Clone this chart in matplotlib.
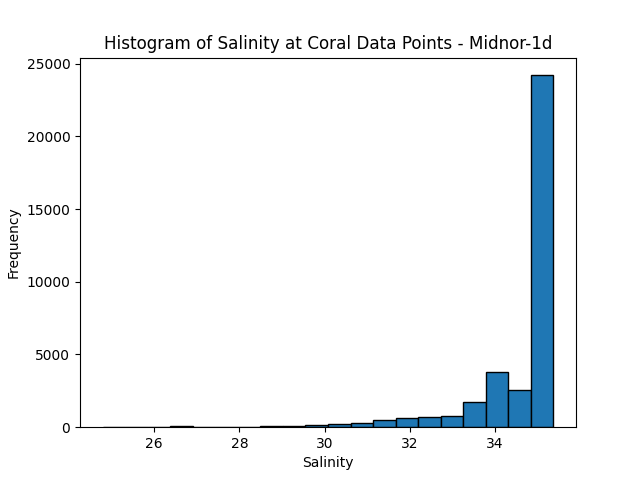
import numpy as np
import matplotlib
matplotlib.use("Agg")
import matplotlib.pyplot as plt

salinity_min = 24.79
salinity_max = 35.37
counts = [5, 5, 5, 60, 5, 5, 5, 50, 70, 150, 230, 300, 480, 610, 670, 760, 1710, 3770, 2530, 24200]

edges = np.linspace(salinity_min, salinity_max, len(counts) + 1)

fig, ax = plt.subplots(figsize=(6.4, 4.8), dpi=100)
ax.bar(edges[:-1], counts, width=np.diff(edges), align="edge", edgecolor="black")
ax.set_title("Histogram of Salinity at Coral Data Points - Midnor-1d", fontsize=12.08)
ax.set_xlabel("Salinity")
ax.set_ylabel("Frequency")
fig.savefig("out.png", dpi=100)
